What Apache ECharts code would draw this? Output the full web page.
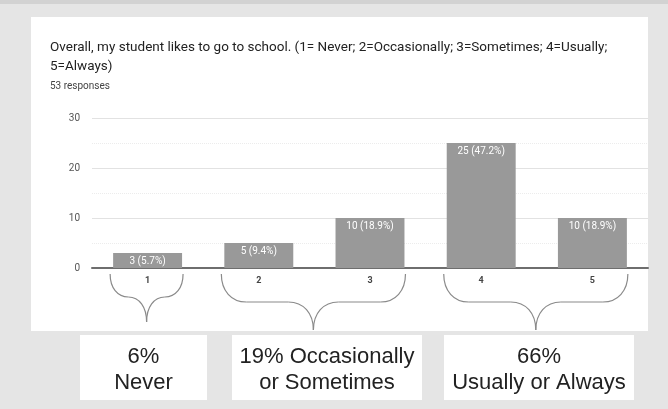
<!DOCTYPE html>
<html>
<head>
<meta charset="utf-8">
<script src="https://cdn.jsdelivr.net/npm/echarts@6/dist/echarts.min.js"></script>
<style>
  html, body { margin: 0; padding: 0; background: #e5e5e5; }
  #chart { width: 668px; height: 409px; }
</style>
</head>
<body>
<div id="chart"></div>
<script>
// Survey answers: how often the student likes to go to school
const categories = ['1', '2', '3', '4', '5'];
const counts = [3, 5, 10, 25, 10];
const totalResponses = 53;
const yTicks = [0, 10, 20, 30];

// Groupings shown under the axis: which categories each brace spans
const groups = [
  { from: 0, to: 0, lines: ['6%', 'Never'] },
  { from: 1, to: 2, lines: ['19% Occasionally', 'or Sometimes'] },
  { from: 3, to: 4, lines: ['66%', 'Usually or Always'] }
];

const titleText = 'Overall, my student likes to go to school. (1= Never; 2=Occasionally; 3=Sometimes; 4=Usually;\n5=Always)';
const subText = totalResponses + ' responses';

const chart = echarts.init(document.getElementById('chart'));

chart.setOption({
  backgroundColor: '#e5e5e5',
  animation: false,
  title: {
    text: titleText,
    subtext: subText,
    left: 45,
    top: 33,
    itemGap: 4,
    textStyle: { fontFamily: 'Roboto', fontSize: 13.5, fontWeight: 'normal', color: '#222', lineHeight: 19 },
    subtextStyle: { fontFamily: 'Roboto', fontSize: 10, color: '#444', lineHeight: 12 }
  },
  grid: { left: 92, right: 20, top: 118, bottom: 141, containLabel: false },
  xAxis: {
    type: 'category',
    data: categories,
    axisLine: { lineStyle: { color: '#6e6e6e', width: 2 } },
    axisTick: { show: false },
    axisLabel: { color: '#444', fontFamily: 'Roboto', fontSize: 9, fontWeight: 'bold', margin: 8 }
  },
  yAxis: {
    type: 'value',
    min: yTicks[0],
    max: yTicks[yTicks.length - 1],
    interval: 10,
    axisLine: { show: false },
    axisTick: { show: false },
    axisLabel: { color: '#555', fontFamily: 'Roboto', fontSize: 10, margin: 12 },
    splitLine: { lineStyle: { color: '#e2e2e2', width: 1 } },
    minorTick: { show: false, splitNumber: 2 },
    minorSplitLine: { show: true, lineStyle: { color: '#ececec', width: 1, type: 'dotted' } }
  },
  series: [{
    type: 'bar',
    data: counts,
    barCategoryGap: '38%',
    itemStyle: { color: '#999999' },
    label: {
      show: true,
      position: 'insideTop',
      distance: 3,
      color: '#fff',
      fontFamily: 'Roboto',
      fontSize: 10,
      formatter: p => p.value + ' (' + (p.value / totalResponses * 100).toFixed(1) + '%)'
    }
  }],
  graphic: [
    { id: 'topEdge', type: 'rect', z: -20, shape: { x: 0, y: 0, width: 668, height: 4 }, style: { fill: '#d2d2d2' } },
    { id: 'card', type: 'rect', z: -10, shape: { x: 31, y: 17, width: 617, height: 314 }, style: { fill: '#ffffff' } }
  ]
});

// Curly braces under the axis, placed from the axis scale
const braceStyle = { fill: 'none', stroke: '#8a8a8a', lineWidth: 1.2 };
function braceParts(id, xL, xR, yTop, yMid, yTip) {
  const xC = (xL + xR) / 2;
  const r = Math.min(25, (xR - xL) / 4);
  const parts = [];
  [[xL, 1], [xR, -1]].forEach(([x0, s], k) => {
    parts.push({
      id: id + '_c' + k + 'a', type: 'bezierCurve', style: braceStyle,
      shape: {
        x1: x0, y1: yTop,
        cpx1: x0, cpy1: yTop + (yMid - yTop) * 0.6,
        cpx2: x0 + s * r * 0.4, cpy2: yMid,
        x2: x0 + s * r, y2: yMid
      }
    });
    parts.push({
      id: id + '_l' + k, type: 'line', style: braceStyle,
      shape: { x1: x0 + s * r, y1: yMid, x2: xC - s * r, y2: yMid }
    });
    parts.push({
      id: id + '_c' + k + 'b', type: 'bezierCurve', style: braceStyle,
      shape: {
        x1: xC - s * r, y1: yMid,
        cpx1: xC - s * r * 0.4, cpy1: yMid,
        cpx2: xC, cpy2: yMid + (yTip - yMid) * 0.4,
        x2: xC, y2: yTip
      }
    });
  });
  return parts;
}

const step = chart.convertToPixel({ xAxisIndex: 0 }, categories[1]) - chart.convertToPixel({ xAxisIndex: 0 }, categories[0]);
const halfBar = 0.62 * step / 2;
const boxes = [
  { x: 80, w: 127 },
  { x: 232, w: 190 },
  { x: 444, w: 190 }
];

let extra = [];
groups.forEach((g, i) => {
  const xL = chart.convertToPixel({ xAxisIndex: 0 }, categories[g.from]) - halfBar - 3;
  const xR = chart.convertToPixel({ xAxisIndex: 0 }, categories[g.to]) + halfBar + 1;
  const narrow = g.from === g.to;
  extra = extra.concat(braceParts('brace' + i, xL, xR, 274, narrow ? 297 : 302, narrow ? 322 : 330));
  const b = boxes[i];
  extra.push({
    id: 'box' + i,
    type: 'rect',
    shape: { x: b.x, y: 335, width: b.w, height: 65 },
    style: { fill: '#ffffff' }
  });
  extra.push({
    id: 'boxText' + i,
    type: 'text',
    x: b.x + b.w / 2,
    y: 370,
    style: {
      text: g.lines.join('\n'),
      fontFamily: 'Liberation Sans',
      fontSize: 22,
      lineHeight: 26,
      fill: '#222',
      align: 'center',
      verticalAlign: 'middle'
    }
  });
});
chart.setOption({ graphic: extra });
</script>
</body>
</html>
